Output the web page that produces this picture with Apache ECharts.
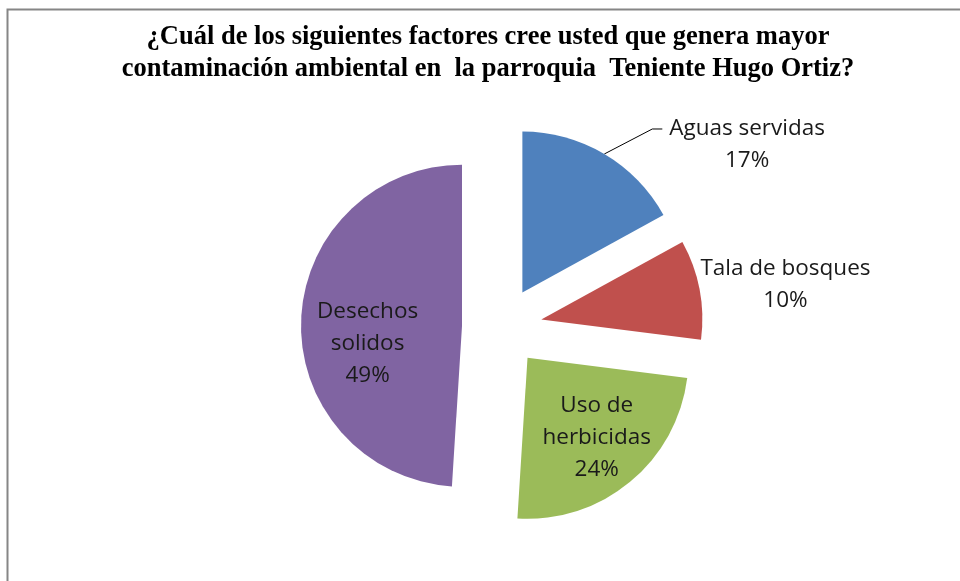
<!DOCTYPE html>
<html>
<head>
<meta charset="utf-8">
<title>Contaminación ambiental</title>
<script src="https://cdn.jsdelivr.net/npm/echarts@6/dist/echarts.min.js"></script>
<style>
  html, body { margin: 0; padding: 0; background: #fff; }
  #main { width: 960px; height: 581px; }
</style>
</head>
<body>
<div id="main"></div>
<script>
// datos del gráfico
var categorias = ['Aguas servidas', 'Tala de bosques', 'Uso de herbicidas', 'Desechos solidos'];
var porcentajes = [17, 10, 24, 49];
var etiquetas = ['Aguas servidas', 'Tala de bosques', 'Uso de\nherbicidas', 'Desechos\nsolidos'];
var colores = ['#4F81BD', '#C0504D', '#9BBB59', '#8064A2'];

var chart = echarts.init(document.getElementById('main'));

// estilo de texto de las etiquetas
var fuente = { fontFamily: 'Open Sans', fontSize: 22.5, lineHeight: 32, color: '#1a1a1a' };

function textoCentrado(p) {
  return '{c|' + etiquetas[p.dataIndex] + '\n' + p.value + '%}';
}
// etiquetas internas: una línea vacía arriba baja el texto dentro de la porción
function textoInterno(p) {
  return '{s|}\n' + etiquetas[p.dataIndex].split('\n').map(function (t) {
    return '{c|' + t + '}';
  }).join('\n') + '\n{c|' + p.value + '%}';
}

// etiqueta de cada porción
var etiquetaDe = [
  { // aguas servidas: fuera, con línea guía
    position: 'outside', distanceToLabelLine: 5, padding: [32, 0, 0, 0],
    formatter: textoCentrado,
    rich: { c: Object.assign({ width: 162, align: 'center' }, fuente) }
  },
  { // tala de bosques: fuera, sin línea
    position: 'outside', distanceToLabelLine: 0, padding: [0, 0, 10, 0],
    formatter: textoCentrado,
    rich: { c: Object.assign({ width: 172, align: 'center' }, fuente) }
  },
  { // uso de herbicidas: dentro
    position: 'inside', padding: [0, 0, 0, 32], formatter: textoInterno,
    rich: { s: { lineHeight: 30, height: 30 }, c: Object.assign({ align: 'center' }, fuente) }
  },
  { // desechos solidos: dentro
    position: 'inside', padding: [0, 22, 0, 0], formatter: textoInterno,
    rich: { s: { lineHeight: 40, height: 40 }, c: Object.assign({ align: 'center' }, fuente) }
  }
];
var lineaDe = [
  { show: true, length: 29, length2: 42, lineStyle: { color: '#000', width: 1 } },
  { show: false, length: 0, length2: 0 },
  { show: false },
  { show: false }
];

var datos = categorias.map(function (c, i) {
  return {
    name: c,
    value: porcentajes[i],
    selected: true,
    itemStyle: { color: colores[i] },
    label: etiquetaDe[i],
    labelLine: lineaDe[i]
  };
});

var option = {
  backgroundColor: '#fff',
  animation: false,
  title: {
    text: '¿Cuál de los siguientes factores cree usted que genera mayor\ncontaminación ambiental en  la parroquia  Teniente Hugo Ortiz?',
    left: 483,
    top: 16,
    textAlign: 'center',
    textStyle: {
      fontFamily: 'Liberation Serif',
      fontWeight: 'bold',
      fontSize: 26.5,
      lineHeight: 32,
      color: '#000'
    }
  },
  // marco del área del gráfico
  graphic: [{
    type: 'rect',
    shape: { x: 7.5, y: 9.5, width: 1000, height: 1000 },
    style: { fill: 'none', stroke: '#868686', lineWidth: 2 },
    silent: true
  }],
  series: [{
    type: 'pie',
    center: [502, 327],
    radius: 161,
    startAngle: 90,
    clockwise: true,
    selectedMode: 'multiple',
    selectedOffset: 40,
    avoidLabelOverlap: false,
    label: {
      fontFamily: fuente.fontFamily,
      fontSize: fuente.fontSize,
      lineHeight: fuente.lineHeight,
      color: fuente.color
    },
    // la línea guía de "Aguas servidas" sube en diagonal y termina en horizontal
    labelLayout: function (p) {
      if (p.dataIndex !== 0 || !p.labelLinePoints) return {};
      var ini = p.labelLinePoints[0];
      var codo = [ini[0] + 48, ini[1] - 25];
      var fin = [codo[0] + 10, codo[1]];
      return { labelLinePoints: [ini, codo, fin] };
    },
    emphasis: { disabled: true },
    data: datos
  }]
};

chart.setOption(option);
</script>
</body>
</html>
